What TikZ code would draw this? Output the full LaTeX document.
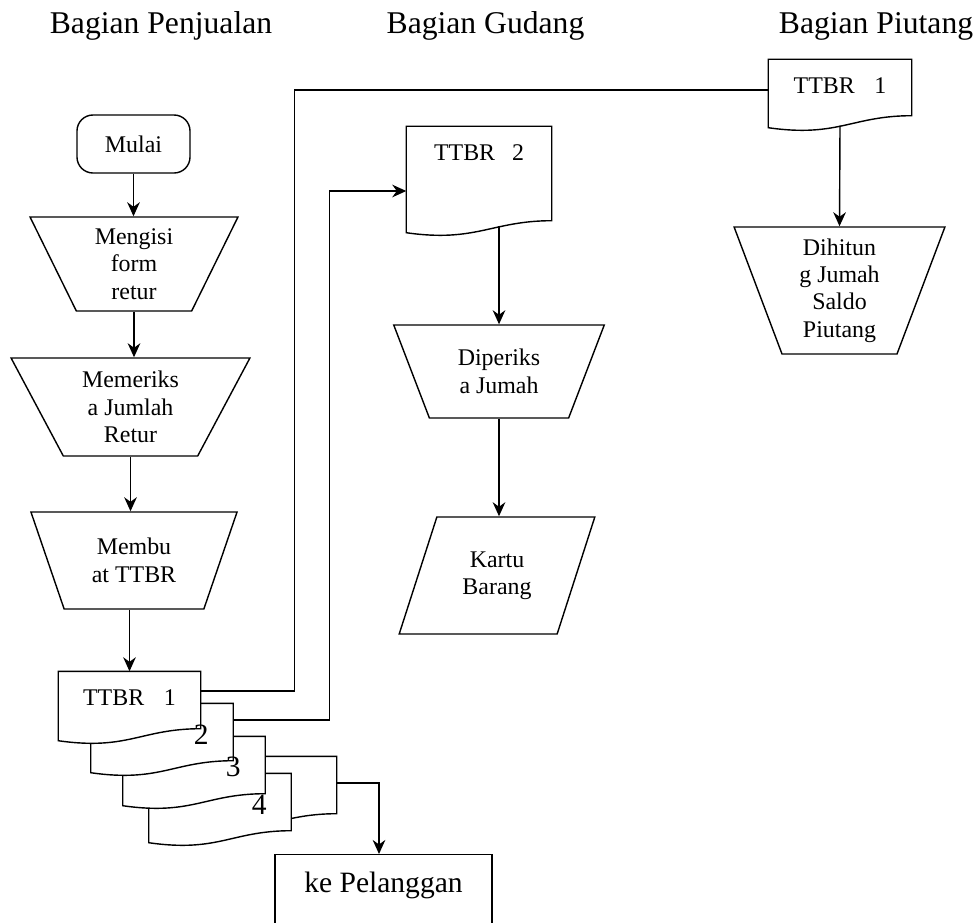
\documentclass[tikz,border=0pt]{standalone}
\usepackage{fontspec}
\setmainfont{Liberation Serif}
\usetikzlibrary{arrows.meta,positioning,shapes.geometric,calc,backgrounds}

\newcommand{\docshape}[2]{(#1.north west) -- (#1.north east) -- ($(#1.south east)+(0,#2-12)$) .. controls +(-60,0) and +(70,10) .. ($(#1.south west)+(0,#2)$) -- cycle}

\begin{document}
\begin{tikzpicture}[
    x=0.025cm, y=-0.025cm,
    font=\fontsize{17}{19.5}\selectfont,
    line width=1pt,
    proc/.style={draw, trapezium, trapezium stretches=true, shape border rotate=180, align=center, inner sep=2pt},
    doc/.style={minimum width=3.525cm, minimum height=1.3cm, inner sep=0pt},
    docline/.style={draw, fill=white, line width=1pt},
    head/.style={font=\fontsize{22.5}{27}\selectfont, anchor=base},
    big/.style={font=\fontsize{21}{25}\selectfont, inner sep=0pt},
    arrow/.style={-{Stealth[length=10pt, width=9pt]}},
]
    \useasboundingbox (0,0) rectangle (979,922);

    \node[head] (hjual) at (161,33) {Bagian Penjualan};
    \node[head] (hgudang) at (485.5,33) {Bagian Gudang};
    \node[head] (hpiutang) at (876,33) {Bagian Piutang};

    % penjualan
    \node[draw, rounded corners=0.4cm, minimum width=2.825cm, minimum height=1.45cm] (mulai) at (133.5,144) {Mulai};
    \node[proc, minimum width=5.2cm, minimum height=2.35cm, trapezium angle=66.2] (isi) at (134,264) {Mengisi\\form\\retur};
    \node[proc, minimum width=5.975cm, minimum height=2.45cm, trapezium angle=62.7] (periksa) at (130.5,407) {Memeriks\\a Jumlah\\Retur};
    \node[proc, minimum width=5.2cm, minimum height=2.425cm, trapezium angle=66.8] (buat) at (134,560.5) {Membu\\at TTBR};

    \node[doc] (dX) at (265.5,783) {};
    \node[doc] (d4) at (220,800) {};
    \node[doc] (d3) at (194,763) {};
    \node[doc] (d2) at (162,730) {};
    \node[doc] (d1) at (129.5,698) {TTBR\hspace{14pt}1};
    \node[big] (n2) at ($(d2.north east)+(-32,31)$) {2};
    \node[big] (n3) at ($(d3.north east)+(-32,31)$) {3};
    \node[big] (n4) at ($(d4.north east)+(-32,31)$) {4};

    \node[draw, anchor=north, minimum width=5.425cm, inner sep=0pt, text height=27pt, text depth=41.3pt, font=\fontsize{21}{25}\selectfont] (kp) at (383.5,854) {ke Pelanggan};

    % gudang
    \node[doc, minimum width=3.6cm] (gd2) at (479,153) {TTBR\hspace{12pt}2};
    \node[proc, minimum width=5.3cm, minimum height=2.325cm, trapezium angle=65.7] (periksaG) at (499,371.5) {Diperiks\\a Jumah};
    \node[draw, trapezium, trapezium stretches=true, trapezium left angle=66.9, trapezium right angle=113.1, minimum width=4.9cm, minimum height=2.925cm, align=center] (kartu) at (497,575.5) {Kartu\\Barang};

    % piutang
    \node[doc, minimum width=3.55cm] (pt1) at (840,86) {TTBR\hspace{14pt}1};
    \node[proc, minimum width=5.275cm, minimum height=3.175cm, trapezium angle=71.9] (hitung) at (839.5,290.5) {Dihitun\\g Jumah\\Saldo\\Piutang};

    \begin{scope}[on background layer]
        \foreach \d/\e in {dX/16, d4/16, d3/16, d2/16, d1/16, pt1/15, gd2/53}
            \draw[docline] \docshape{\d}{\e};
    \end{scope}

    \draw[arrow] (mulai.south) -- (mulai.south |- isi.north);
    \draw[arrow] (isi.south) -- (isi.south |- periksa.north);
    \draw[arrow] (periksa.south) -- (periksa.south |- buat.north);
    \draw[arrow] (d1.north |- buat.south) -- (d1.north);
    \draw ($(d1.east)+(0,-7)$) -- ++(94,0) |- ($(pt1.west)+(0,4)$);
    \draw[arrow] ($(d2.east)+(0,-10)$) -- ++(96,0) |- ($(gd2.west)+(0,38)$);
    \draw[arrow] ($(pt1.south)+(0,13)$) -- (hitung.north);
    \draw[arrow] ($(gd2.south -| periksaG.north)+(0,46)$) -- (periksaG.north);
    \draw[arrow] (periksaG.south) -- (periksaG.south |- kartu.north);
    \draw[arrow] (dX.east) -| ($(kp.north)+(-4.5,0)$);
\end{tikzpicture}
\end{document}
